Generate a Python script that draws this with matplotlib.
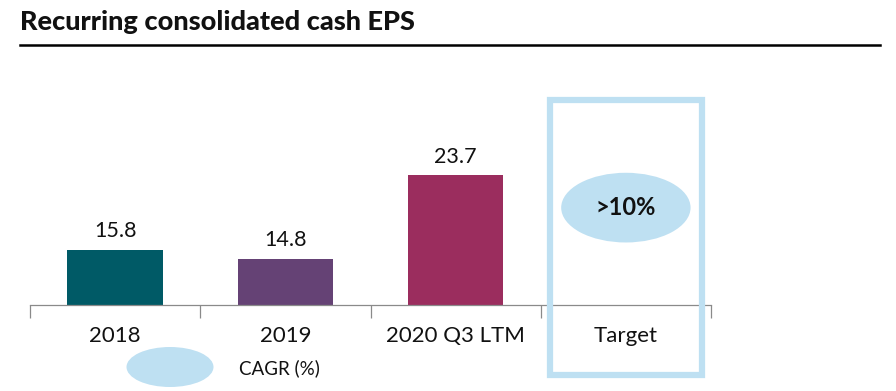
import numpy as np
import matplotlib
matplotlib.use("Agg")
import matplotlib.pyplot as plt
from matplotlib.patches import Rectangle, Ellipse
from matplotlib.transforms import blended_transform_factory

plt.rcParams["font.family"] = ["Lato", "DejaVu Sans"]

categories = ["2018", "2019", "2020 Q3 LTM", "Target"]
eps_values = [15.8, 14.8, 23.7]
bar_colors = ["#005A66", "#654275", "#9B2D5E"]
target_label = ">10%"
legend_label = "CAGR (%)"
title = "Recurring consolidated cash EPS"

LIGHT_BLUE = "#BEE0F2"

fig = plt.figure(figsize=(8.96, 3.91), dpi=100)
ax = fig.add_axes([30 / 896, 1 - 305 / 391, 681 / 896, 205 / 391])

xs = np.arange(len(eps_values))
ax.bar(xs, eps_values, width=0.56, color=bar_colors, zorder=2)
for x, v in zip(xs, eps_values):
    ax.text(x, v + 0.9, f"{v:.1f}", ha="center", va="bottom", fontsize=15.5, color="#111111")

ax.set_xlim(-0.5, len(categories) - 0.5)
ax.set_ylim(9.9, 31.7)

for side in ("top", "right", "left"):
    ax.spines[side].set_visible(False)
ax.spines["bottom"].set_color("#8A8A8A")
ax.spines["bottom"].set_linewidth(0.9)
ax.set_yticks([])

ax.set_xticks(np.arange(len(categories)))
ax.set_xticklabels(categories, fontsize=16, color="#111111")
ax.tick_params(axis="x", which="major", length=0, pad=15)
ax.set_xticks(np.arange(len(categories) + 1) - 0.5, minor=True)
ax.tick_params(axis="x", which="minor", length=9, color="#8A8A8A", width=0.9, direction="out")

# target frame and CAGR bubble
trans = blended_transform_factory(ax.transData, ax.transAxes)
tx = len(categories) - 1
ax.add_patch(Rectangle((tx - 0.447, -0.34), 0.894, 1.34, transform=trans,
                       fill=False, edgecolor=LIGHT_BLUE, linewidth=4.5, clip_on=False, zorder=3))
ax.add_patch(Ellipse((tx, 0.475), 0.76, 0.34, transform=trans,
                     facecolor=LIGHT_BLUE, edgecolor="none", clip_on=False, zorder=2))
ax.text(tx, 0.475, target_label, transform=trans, ha="center", va="center",
        fontsize=17, fontweight="bold", color="#111111")

# legend bubble
fig.patches.append(Ellipse((170 / 896, 1 - 367 / 391), 87 / 896, 40 / 391,
                           transform=fig.transFigure, facecolor=LIGHT_BLUE, edgecolor="none"))
fig.text(239 / 896, 1 - 368 / 391, legend_label, ha="left", va="center", fontsize=13.5, color="#111111")

# header
fig.text(20 / 896, 1 - 22 / 391, title, ha="left", va="center", fontsize=19.5,
         fontweight="black", color="#111111")
fig.add_artist(plt.Line2D([20 / 896, 880 / 896], [1 - 45 / 391, 1 - 45 / 391],
                          transform=fig.transFigure, color="black", linewidth=1.8))

fig.savefig("out.png", dpi=100, facecolor="white")
